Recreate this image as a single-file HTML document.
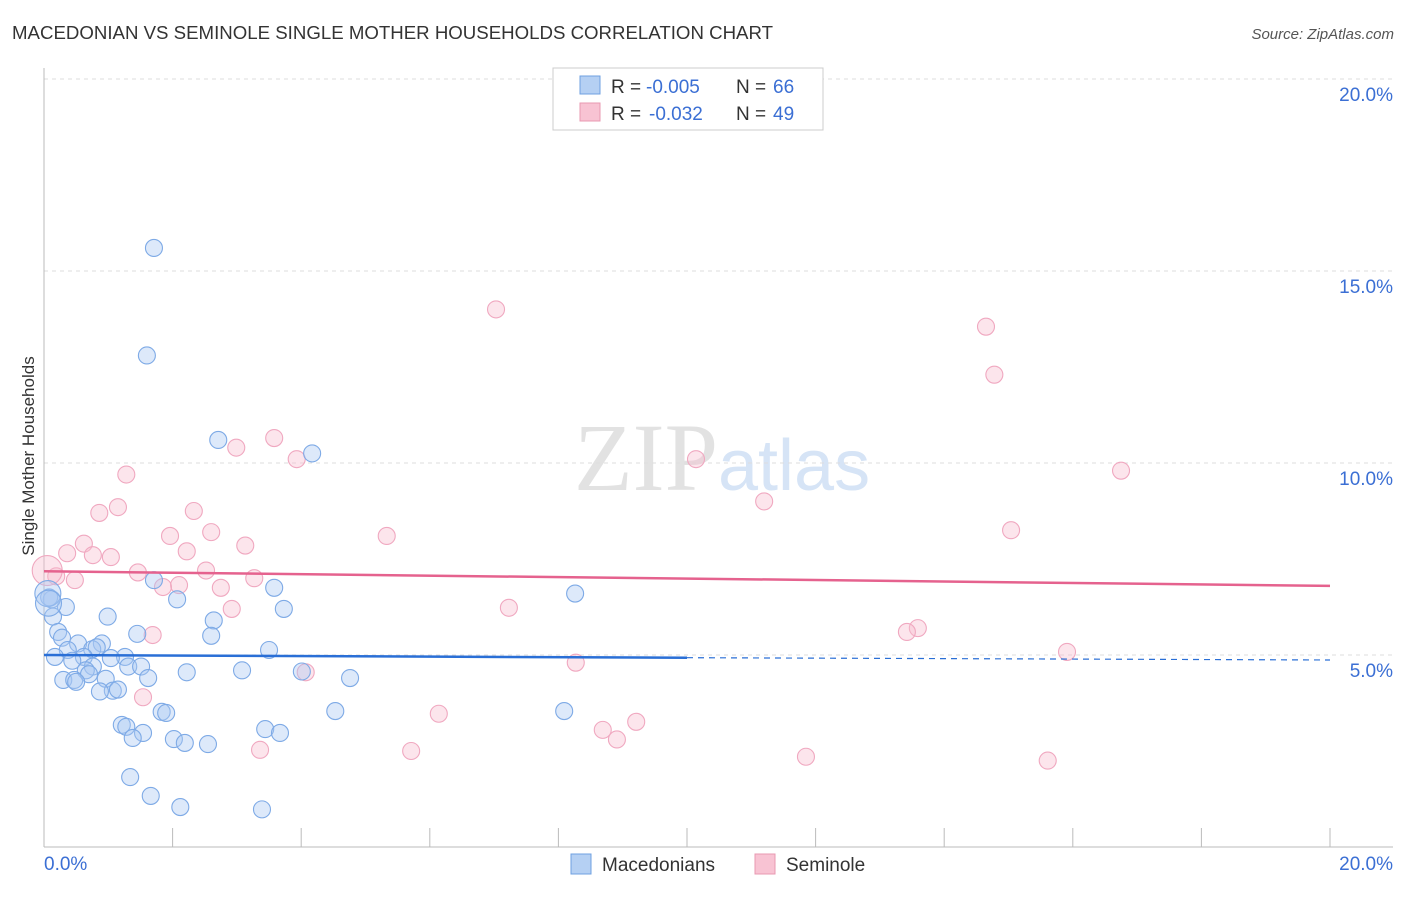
<!DOCTYPE html>
<html><head><meta charset="utf-8"><style>
body{margin:0;background:#fff;font-family:"Liberation Sans",sans-serif;}
</style></head><body>
<svg id="c" width="1406" height="892" xmlns="http://www.w3.org/2000/svg">
<text x="12" y="39" font-size="18" fill="#333" textLength="761" lengthAdjust="spacingAndGlyphs">MACEDONIAN VS SEMINOLE SINGLE MOTHER HOUSEHOLDS CORRELATION CHART</text>
<text x="1394" y="39" font-size="15" fill="#555" font-style="italic" text-anchor="end">Source: ZipAtlas.com</text>
<text x="34" y="456" font-size="17" fill="#333" transform="rotate(-90 34 456)" text-anchor="middle">Single Mother Households</text>
<text x="718" y="490" font-size="96" fill="#e2e2e2" text-anchor="end" font-family="Liberation Serif,serif">ZIP</text>
<text x="718" y="490" font-size="72" fill="#d6e4f6">atlas</text>
<g id="grid"></g><g id="pts"></g><g id="lines"></g>
<g>
<rect x="553" y="68" width="270" height="62" fill="#fff" stroke="#ccc"/>
<rect x="580" y="76" width="20" height="18" fill="#b5d0f3" stroke="#6fa0e0"/>
<rect x="580" y="103" width="20" height="18" fill="#f8c3d3" stroke="#e898b2"/>
<text x="611" y="93" font-size="19" fill="#333">R =</text>
<text x="646" y="93" font-size="19" fill="#3b6fd4">-0.005</text>
<text x="736" y="93" font-size="19" fill="#333">N =</text>
<text x="773" y="93" font-size="19" fill="#3b6fd4">66</text>
<text x="611" y="120" font-size="19" fill="#333">R =</text>
<text x="649" y="120" font-size="19" fill="#3b6fd4">-0.032</text>
<text x="736" y="120" font-size="19" fill="#333">N =</text>
<text x="773" y="120" font-size="19" fill="#3b6fd4">49</text>
</g>
<g>
<rect x="571" y="854" width="20" height="20" fill="#b5d0f3" stroke="#6fa0e0"/>
<text x="602" y="871" font-size="19" fill="#333">Macedonians</text>
<rect x="755" y="854" width="20" height="20" fill="#f8c3d3" stroke="#e898b2"/>
<text x="786" y="871" font-size="19" fill="#333">Seminole</text>
</g>
</svg>
<script>
const yTicks=[5,10,15,20];
const xTickLabels=["0.0%","20.0%"];
const blueX=[1.71,1.6,2.71,4.17,1.71,3.58,8.26,2.07,0.34,0.12,0.08,0.14,0.99,3.73,2.64,0.22,0.28,1.45,2.6,0.53,0.9,0.75,0.82,0.37,3.5,0.17,0.62,1.26,1.04,0.44,1.31,1.51,0.76,0.65,2.22,3.08,4.01,4.76,1.62,0.96,0.3,0.47,0.7,0.5,1.07,1.15,0.87,4.53,8.09,1.83,1.9,1.21,1.28,1.54,1.38,2.02,2.19,2.55,3.44,3.67,1.34,1.66,2.12,3.39,0.06,0.07];
const blueY=[15.6,12.8,10.6,10.25,6.95,6.75,6.6,6.45,6.25,6.45,6.5,6.0,6.0,6.2,5.9,5.6,5.45,5.55,5.5,5.3,5.3,5.15,5.2,5.13,5.13,4.95,4.95,4.95,4.92,4.85,4.7,4.7,4.7,4.6,4.55,4.6,4.57,4.4,4.4,4.38,4.35,4.35,4.5,4.3,4.07,4.1,4.05,3.54,3.54,3.52,3.49,3.18,3.13,2.97,2.84,2.81,2.71,2.68,3.07,2.97,1.82,1.33,1.04,0.98,6.6,6.35];
const pinkX=[7.03,14.65,14.78,3.58,2.99,3.93,10.14,1.28,16.75,11.2,1.15,0.86,2.33,15.04,2.6,1.96,5.33,0.62,3.13,0.36,2.22,0.76,1.04,1.46,2.52,3.27,0.48,2.1,1.85,2.75,0.19,0.05,2.92,7.23,1.69,13.59,13.42,15.91,8.27,4.07,1.54,6.14,9.21,8.69,8.91,5.71,3.36,11.85,15.61];
const pinkY=[14.0,13.55,12.3,10.65,10.4,10.1,10.1,9.7,9.8,9.0,8.85,8.7,8.75,8.25,8.2,8.1,8.1,7.9,7.85,7.65,7.7,7.6,7.55,7.15,7.2,7.0,6.95,6.82,6.77,6.75,7.05,7.2,6.2,6.23,5.52,5.7,5.6,5.08,4.8,4.55,3.9,3.47,3.26,3.05,2.8,2.5,2.53,2.35,2.25];
const x0=44,x1=1330,yb=847,yt=79;
const X=v=>x0+(v/20)*(x1-x0), Y=v=>yb-(v/20)*(yb-yt);
const ns="http://www.w3.org/2000/svg";
function mk(t,a,p){const e=document.createElementNS(ns,t);for(const k in a)e.setAttribute(k,a[k]);p.appendChild(e);return e;}
const g=document.getElementById('grid');
yTicks.forEach(v=>{
const l=mk('line',{x1:x0,x2:1393,y1:Y(v),y2:Y(v),stroke:'#ddd','stroke-dasharray':'4,4'},g);


const t=mk('text',{x:1393,y:Y(v)+22,'font-size':19,fill:'#3b6fd4','text-anchor':'end'},g);
t.textContent=v.toFixed(1)+'%';


});
mk('line',{x1:x0,x2:x0,y1:68,y2:847,stroke:'#bbb'},g);
mk('line',{x1:x0,x2:1393,y1:847,y2:847,stroke:'#bbb'},g);
for(let i=0;i<=10;i++){const l=mk('line',{x1:X(i*2),x2:X(i*2),y1:828,y2:847,stroke:'#bbb'},g);

}
const tl=mk('text',{x:44,y:870,'font-size':19,fill:'#3b6fd4'},g);tl.textContent=xTickLabels[0];


const tr=mk('text',{x:1393,y:870,'font-size':19,fill:'#3b6fd4','text-anchor':'end'},g);tr.textContent=xTickLabels[1];


const p=document.getElementById('pts');
pinkX.forEach((v,i)=>{const c=mk('circle',{cx:X(v),cy:Y(pinkY[i]),r:i==31?15:8.5,fill:'rgba(248,190,208,0.4)',stroke:'#f0a8c0','stroke-width':1.1},p);

});
blueX.forEach((v,i)=>{const c=mk('circle',{cx:X(v),cy:Y(blueY[i]),r:i>=64?13:8.5,fill:'rgba(170,200,242,0.4)',stroke:'#7eaae6','stroke-width':1.1},p);

});
const L=document.getElementById('lines');
const b1=mk('line',{x1:X(0),y1:Y(5.0),x2:X(10),y2:Y(4.93),stroke:'#2a6fd6','stroke-width':2.5},L);


const b2=mk('line',{x1:X(10),y1:Y(4.93),x2:X(20),y2:Y(4.87),stroke:'#2a6fd6','stroke-width':1.2,'stroke-dasharray':'6,5'},L);


const pl=mk('line',{x1:X(0),y1:Y(7.18),x2:X(20),y2:Y(6.8),stroke:'#e5628e','stroke-width':2.5},L);


</script>
</body></html>
